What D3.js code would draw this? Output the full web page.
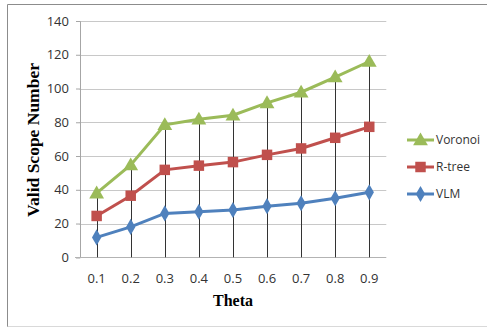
<!DOCTYPE html>
<html><head><meta charset="utf-8">
<script src="https://cdn.jsdelivr.net/npm/d3@7"></script>
<style>body{margin:0;background:#fff}svg{display:block}</style>
</head><body>
<svg id="c" width="487" height="329"></svg>
<script>
const categories = ["0.1","0.2","0.3","0.4","0.5","0.6","0.7","0.8","0.9"];
const voronoi = [38, 54.7, 78.5, 81.8, 84.2, 91.5, 97.8, 106.8, 116];
const rtree = [24.5, 36.5, 51.8, 54.3, 56.4, 60.7, 64.5, 70.8, 77.3];
const vlm = [11.8, 18, 26, 27, 28, 30.3, 32, 35, 38.5];
const yTicks = [0,20,40,60,80,100,120,140];
const seriesNames = ["Voronoi","R-tree","VLM"];
const seriesColors = ["#9BBB59","#C0504D","#4F81BD"];

const svg = d3.select("#c");
const x = d3.scaleBand().domain(categories).range([79.6, 386.3]);
const y = d3.scaleLinear().domain([0,140]).range([257.3, 21]);
const cx = d => x(d) + x.bandwidth()/2;
const tickFont = "'Open Sans', 'Liberation Sans', sans-serif";

// outer border
svg.append("line").attr("x1",7.5).attr("x2",487).attr("y1",4.5).attr("y2",4.5).attr("stroke","#8c8c8c").attr("stroke-width",1);
svg.append("line").attr("x1",7.5).attr("x2",7.5).attr("y1",4.5).attr("y2",327).attr("stroke","#8c8c8c").attr("stroke-width",1);
svg.append("line").attr("x1",7.5).attr("x2",487).attr("y1",326.5).attr("y2",326.5).attr("stroke","#d9d9d9").attr("stroke-width",1);

// gridlines
svg.append("g").selectAll("line").data(yTicks.filter(t=>t>0)).join("line")
  .attr("x1",79.6).attr("x2",386.3)
  .attr("y1",d=>Math.round(y(d))+0.5).attr("y2",d=>Math.round(y(d))+0.5)
  .attr("stroke","#c8c8c8").attr("stroke-width",1);

// y axis
const yAxis = d3.axisLeft(y).tickValues(yTicks).tickSize(4).tickPadding(7);
const gy = svg.append("g").attr("transform","translate(80,0)").call(yAxis);
gy.select(".domain").attr("stroke","#a6a6a6");
gy.selectAll(".tick line").attr("stroke","#a6a6a6");
gy.selectAll("text").attr("font-family",tickFont).attr("font-size",13).attr("fill","#333");

// x axis
const xAxis = d3.axisBottom(x).tickSize(0).tickPadding(16);
const gx = svg.append("g").attr("transform","translate(0,"+(Math.round(y(0))+0.5)+")").call(xAxis);
gx.select(".domain").attr("stroke","#b3b3b3").attr("d","M75,0H386.3");
gx.selectAll("text").attr("font-family",tickFont).attr("font-size",13).attr("fill","#333");

// drop lines
svg.append("g").selectAll("line").data(categories).join("line")
  .attr("x1",d=>Math.round(cx(d))+0.5).attr("x2",d=>Math.round(cx(d))+0.5)
  .attr("y1",(d,i)=>y(voronoi[i])).attr("y2",y(0))
  .attr("stroke","#333").attr("stroke-width",1);

const data = [voronoi, rtree, vlm];
const shapes = [d3.symbolTriangle, d3.symbolSquare, d3.symbolDiamond];
const sizes = [95, 110, 75];
const line = d3.line().x((d,i)=>cx(categories[i])).y(d=>y(d));
data.forEach((s,k)=>{
  svg.append("path").datum(s).attr("d",line).attr("fill","none")
    .attr("stroke",seriesColors[k]).attr("stroke-width",3);
  svg.append("g").selectAll("path").data(s).join("path")
    .attr("transform",(d,i)=>`translate(${cx(categories[i])},${y(d) + (k===0?1:0)})`)
    .attr("d",d3.symbol().type(shapes[k]).size(sizes[k]))
    .attr("fill",seriesColors[k]);
});

// legend
const lg = svg.append("g");
seriesNames.forEach((n,k)=>{
  const ly = 140 + k*27;
  lg.append("line").attr("x1",407).attr("x2",434).attr("y1",ly).attr("y2",ly)
    .attr("stroke",seriesColors[k]).attr("stroke-width",3);
  lg.append("path").attr("transform",`translate(420.5,${ly + (k===0?1:0)})`)
    .attr("d",d3.symbol().type(shapes[k]).size(sizes[k]))
    .attr("fill",seriesColors[k]);
  lg.append("text").attr("x",436).attr("y",ly).attr("dy","0.35em")
    .attr("font-family",tickFont).attr("font-size",12).attr("fill","#333").text(n);
});

// axis titles
svg.append("text").attr("transform","translate(39,140) rotate(-90)")
  .attr("text-anchor","middle").attr("font-family","'Liberation Serif', serif")
  .attr("font-weight","bold").attr("font-size",17.5).attr("fill","#000").text("Valid Scope Number");
svg.append("text").attr("x",233).attr("y",306)
  .attr("text-anchor","middle").attr("font-family","'Liberation Serif', serif")
  .attr("font-weight","bold").attr("font-size",16).attr("fill","#000").text("Theta");
</script>
</body></html>
